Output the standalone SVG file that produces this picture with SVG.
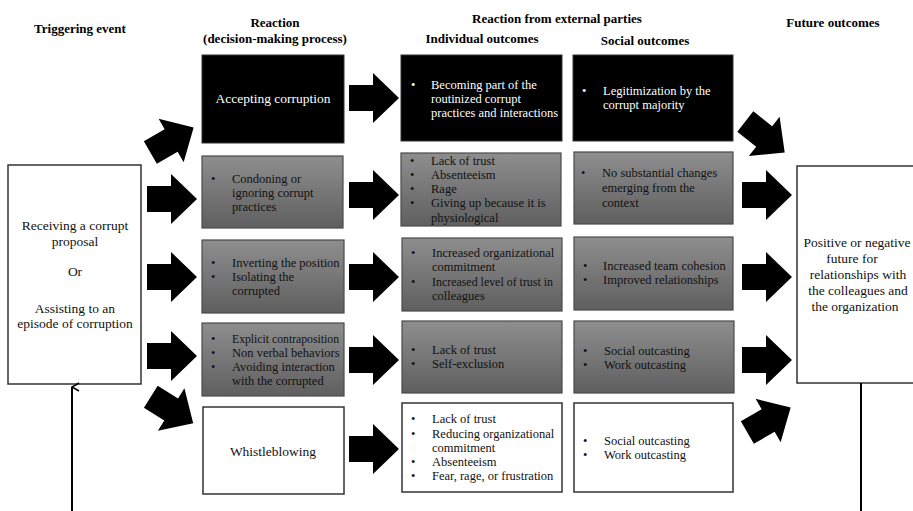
<svg xmlns="http://www.w3.org/2000/svg" width="913" height="511" viewBox="0 0 913 511">
<defs>
<linearGradient id="g" x1="0" y1="0" x2="0" y2="1">
<stop offset="0" stop-color="#8e8e8e"/>
<stop offset="1" stop-color="#5f5f5f"/>
</linearGradient>
<path id="arr" d="M-25,-13 L-1,-13 L-1,-25 L25,0 L-1,25 L-1,13 L-25,13 Z" fill="#000"/>
<marker id="up" viewBox="0 0 10 10" refX="5" refY="1" markerWidth="10" markerHeight="10" markerUnits="userSpaceOnUse" orient="auto-start-reverse">
<path d="M1,8 L5,1 L9,8" fill="none" stroke="#000" stroke-width="1.5"/>
</marker>
<style>
text{font-family:"Liberation Serif","Times New Roman",serif;font-size:12.5px;fill:#111}
.h{font-weight:bold;font-size:13px;text-anchor:middle;fill:#000}
.c{text-anchor:middle}
.w{fill:#fff}
.big{font-size:13.5px}
.blk{fill:#000;stroke:#333;stroke-width:1}
.gry{fill:url(#g);stroke:#4a4a4a;stroke-width:1.2}
.wht{fill:#fff;stroke:#333;stroke-width:1.5}
</style>
</defs>
<rect width="913" height="511" fill="#fff"/>

<g id="headers">
<text class="h" x="80" y="33">Triggering event</text>
<text class="h" x="275" y="27">Reaction</text>
<text class="h" x="275" y="43">(decision-making process)</text>
<text class="h" x="557" y="23">Reaction from external parties</text>
<text class="h" x="482" y="43">Individual outcomes</text>
<text class="h" x="645" y="45">Social outcomes</text>
<text class="h" x="833" y="27">Future outcomes</text>
</g>

<g id="trigger">
<rect class="wht" x="8" y="165" width="133" height="219"/>
<text class="c big" x="75" y="230">Receiving a corrupt</text>
<text class="c big" x="75" y="246">proposal</text>
<text class="c big" x="75" y="276">Or</text>
<text class="c big" x="75" y="313">Assisting to an</text>
<text class="c big" x="75" y="328">episode of corruption</text>
</g>

<g id="future">
<rect class="wht" x="797" y="166" width="130" height="217"/>
<text class="c big" x="857" y="247">Positive or negative</text>
<text class="c big" x="852" y="263">future for</text>
<text class="c big" x="858" y="279">relationships with</text>
<text class="c big" x="858" y="295">the colleagues and</text>
<text class="c big" x="855" y="311">the organization</text>
</g>

<g id="r1">
<rect class="blk" x="202" y="55" width="142" height="88"/>
<text class="c w big" x="273" y="103">Accepting corruption</text>
</g>
<g id="r2">
<rect class="gry" x="202" y="156" width="141" height="72"/>
<text x="211" y="183">•</text><text x="232" y="183">Condoning or</text>
<text x="232" y="197">ignoring corrupt</text>
<text x="232" y="211">practices</text>
</g>
<g id="r3">
<rect class="gry" x="202" y="240" width="142" height="73"/>
<text x="211" y="267">•</text><text x="232" y="267">Inverting the position</text>
<text x="211" y="281">•</text><text x="232" y="281">Isolating the</text>
<text x="232" y="295">corrupted</text>
</g>
<g id="r4">
<rect class="gry" x="202" y="323" width="142" height="73"/>
<text x="211" y="343">•</text><text x="232" y="343" textLength="107" lengthAdjust="spacingAndGlyphs">Explicit contraposition</text>
<text x="211" y="357">•</text><text x="232" y="357">Non verbal behaviors</text>
<text x="211" y="371">•</text><text x="232" y="371">Avoiding interaction</text>
<text x="232" y="385">with the corrupted</text>
</g>
<g id="r5">
<rect class="wht" x="203" y="407" width="141" height="87"/>
<text class="c big" x="273" y="456">Whistleblowing</text>
</g>

<g id="i1">
<rect class="blk" x="401" y="55" width="161" height="86"/>
<text class="w" x="411" y="89">•</text><text class="w" x="431" y="89">Becoming part of the</text>
<text class="w" x="431" y="103">routinized corrupt</text>
<text class="w" x="431" y="117">practices and interactions</text>
</g>
<g id="i2">
<rect class="gry" x="401" y="153" width="160" height="73"/>
<text x="410" y="165">•</text><text x="431" y="165">Lack of trust</text>
<text x="410" y="179">•</text><text x="431" y="179">Absenteeism</text>
<text x="410" y="193">•</text><text x="431" y="193">Rage</text>
<text x="410" y="207">•</text><text x="431" y="207">Giving up because it is</text>
<text x="431" y="222">physiological</text>
</g>
<g id="i3">
<rect class="gry" x="402" y="238" width="160" height="73"/>
<text x="411" y="257">•</text><text x="432" y="257">Increased organizational</text>
<text x="432" y="271">commitment</text>
<text x="411" y="286">•</text><text x="432" y="286" textLength="121" lengthAdjust="spacingAndGlyphs">Increased level of trust in</text>
<text x="432" y="300">colleagues</text>
</g>
<g id="i4">
<rect class="gry" x="402" y="321" width="160" height="72"/>
<text x="411" y="354">•</text><text x="432" y="354">Lack of trust</text>
<text x="411" y="368">•</text><text x="432" y="368">Self-exclusion</text>
</g>
<g id="i5">
<rect class="wht" x="402" y="403" width="160" height="89"/>
<text x="411" y="423">•</text><text x="432" y="423">Lack of trust</text>
<text x="411" y="438">•</text><text x="432" y="438">Reducing organizational</text>
<text x="432" y="452">commitment</text>
<text x="411" y="466">•</text><text x="432" y="466">Absenteeism</text>
<text x="411" y="480">•</text><text x="432" y="480">Fear, rage, or frustration</text>
</g>

<g id="s1">
<rect class="blk" x="573" y="55" width="160" height="86"/>
<text class="w" x="582" y="95">•</text><text class="w" x="603" y="95">Legitimization by the</text>
<text class="w" x="603" y="109">corrupt majority</text>
</g>
<g id="s2">
<rect class="gry" x="574" y="152" width="159" height="72"/>
<text x="581" y="177">•</text><text x="602" y="177">No substantial changes</text>
<text x="602" y="192">emerging from the</text>
<text x="602" y="207">context</text>
</g>
<g id="s3">
<rect class="gry" x="574" y="237" width="159" height="73"/>
<text x="583" y="270">•</text><text x="603" y="270">Increased team cohesion</text>
<text x="583" y="284">•</text><text x="603" y="284">Improved relationships</text>
</g>
<g id="s4">
<rect class="gry" x="574" y="321" width="160" height="72"/>
<text x="583" y="355">•</text><text x="604" y="355">Social outcasting</text>
<text x="583" y="369">•</text><text x="604" y="369">Work outcasting</text>
</g>
<g id="s5">
<rect class="wht" x="574" y="403" width="159" height="89"/>
<text x="583" y="445">•</text><text x="604" y="445">Social outcasting</text>
<text x="583" y="459">•</text><text x="604" y="459">Work outcasting</text>
</g>

<g id="connectors">
<use href="#arr" transform="translate(172,140) rotate(-30)"/>
<use href="#arr" transform="translate(172,199)"/>
<use href="#arr" transform="translate(172,277)"/>
<use href="#arr" transform="translate(172,356)"/>
<use href="#arr" transform="translate(172,410) rotate(32)"/>

<use href="#arr" transform="translate(374,98)"/>
<use href="#arr" transform="translate(374,195)"/>
<use href="#arr" transform="translate(374,277)"/>
<use href="#arr" transform="translate(374,360)"/>
<use href="#arr" transform="translate(374,449)"/>

<use href="#arr" transform="translate(765,137) rotate(38)"/>
<use href="#arr" transform="translate(767,195)"/>
<use href="#arr" transform="translate(767,277)"/>
<use href="#arr" transform="translate(767,360)"/>
<use href="#arr" transform="translate(769,420) rotate(-30)"/>

<line x1="72" y1="511" x2="72" y2="387" stroke="#000" stroke-width="2" marker-end="url(#up)"/>
<line x1="861" y1="383" x2="861" y2="511" stroke="#000" stroke-width="2"/>
</g>
</svg>
